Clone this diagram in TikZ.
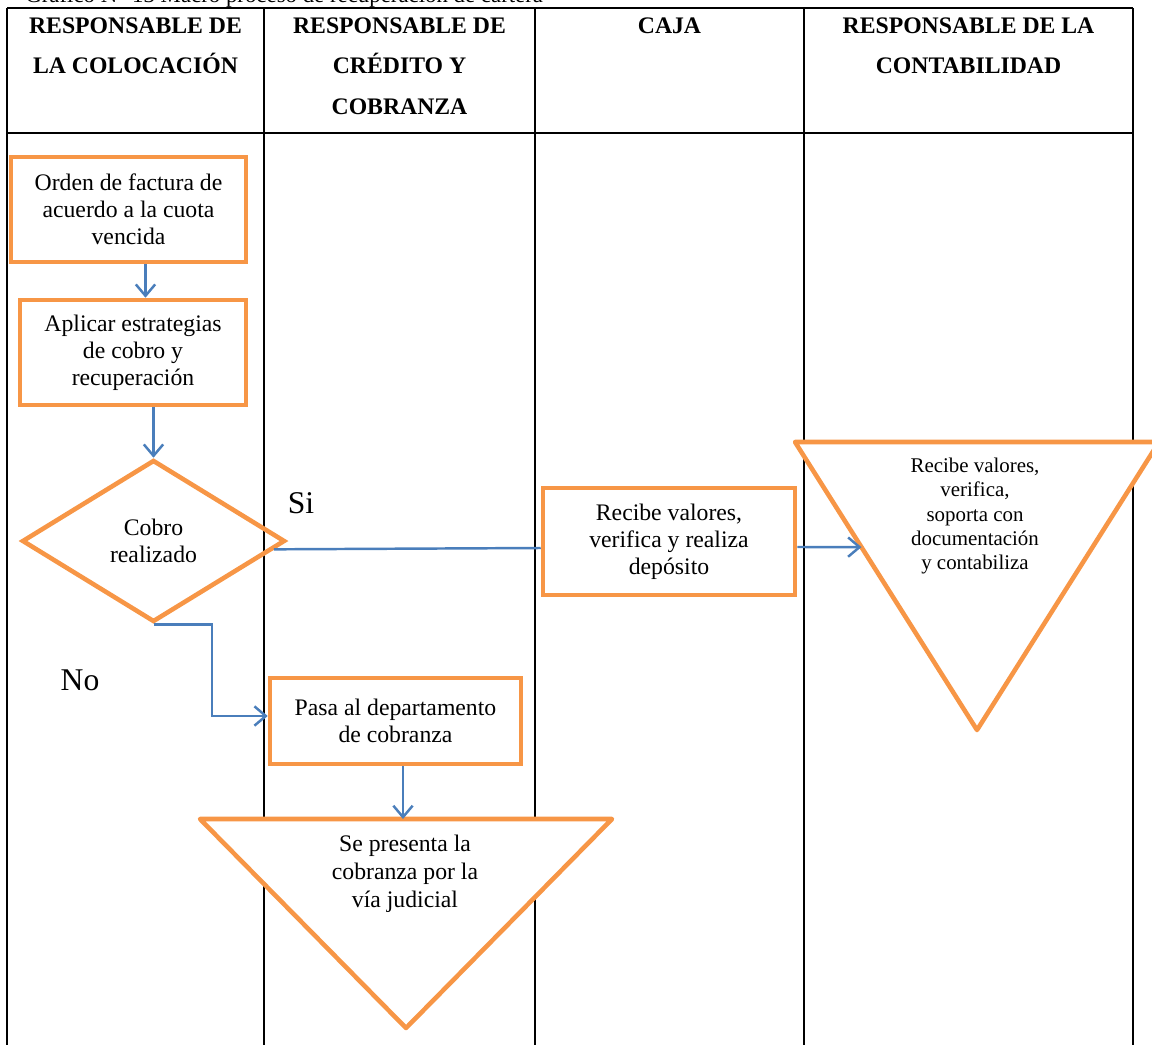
\documentclass[tikz,border=0pt]{standalone}
\usepackage{fontspec}
\setmainfont{Liberation Serif}
\usetikzlibrary{shapes.geometric,arrows.meta,positioning,calc}

\definecolor{boxorange}{HTML}{F79646}
\definecolor{flowblue}{HTML}{4A7EBB}

\begin{document}
\begin{tikzpicture}[x=0.02cm,y=-0.02cm,
    lane/.style={line width=1.1pt},
    stepbox/.style={draw=boxorange,line width=2.6pt,fill=white,rectangle,align=center,inner sep=2pt,font=\fontsize{13.5}{15.4}\selectfont},
    decision/.style={draw=boxorange,line width=2.6pt,diamond,aspect=1.62,minimum width=5.26cm,minimum height=3.24cm,inner sep=0pt,align=center,font=\fontsize{13.5}{15.4}\selectfont},
    endtri/.style={draw=boxorange,line width=2.6pt,fill=white,line join=round},
    tritext/.style={align=center,inner sep=0pt},
    flow/.style={draw=flowblue,line width=1.4pt,-{Straight Barb[length=6.5pt,width=11pt]}},
    head/.style={font=\bfseries\fontsize{13.5}{23.3}\selectfont,align=center,inner sep=0pt,anchor=north},
    answer/.style={font=\fontsize{18}{20}\selectfont}]

    \path[use as bounding box,clip] (0,0) rectangle (1152,1044);

    % Title (cut at the top edge)
    \node[anchor=base west,inner sep=0pt,font=\fontsize{13}{15}\selectfont] (title) at (25,3) {Gráfico N° 13 Macro proceso de recuperación de cartera};

    % Lanes
    \draw[lane] (7,8) -- (1133,8);
    \draw[lane] (7,133) -- (1133,133);
    \foreach \x in {7,264,535,804,1133}
        \draw[lane] (\x,8) -- (\x,1050);

    % Header
    \foreach \x/\txt/\nm in {135.5/{RESPONSABLE DE\\LA COLOCACIÓN}/hcol, 399.5/{RESPONSABLE DE\\CRÉDITO Y\\COBRANZA}/hcred, 669.5/{CAJA}/hcaja, 968.5/{RESPONSABLE DE LA\\CONTABILIDAD}/hcont}
        \node[head] (\nm) at (\x,17) {\txt};

    % Colocacion
    \node[stepbox,minimum width=4.7cm,minimum height=2.1cm] (orden) at (128.5,209.5) {Orden de factura de\\acuerdo a la cuota\\vencida};
    \node[stepbox,minimum width=4.52cm,minimum height=2.1cm] (aplicar) at (133,352.5) {Aplicar estrategias\\de cobro y\\recuperación};
    \node[decision] (cobro) at (153.5,541) {Cobro\\realizado};
    \draw[flow] ([xshift=0.34cm]orden.south) -- ([xshift=0.34cm]orden.south |- aplicar.north);
    \draw[flow] (aplicar.south -| cobro.north) -- (cobro.north);

    % Si
    \node[answer] (sitxt) at (301,503) {Si};
    \node[stepbox,minimum width=5.04cm,minimum height=2.14cm] (caja) at (669,541.5) {Recibe valores,\\verifica y realiza\\depósito};
    \coordinate (siout) at ($(cobro.east)!0.1!(cobro.south)$);
    \draw[flowblue,line width=1.4pt] (siout) -- ([yshift=-0.13cm]caja.west);

    % Contabilidad
    \coordinate (ctl) at (795,442);
    \coordinate (ctr) at (1159,442);
    \coordinate (ctb) at (977,730);
    \coordinate (ctin) at ($(ctl)!0.365!(ctb)$);
    \draw[endtri] (ctl) -- (ctr) -- (ctb) -- cycle;
    \node[tritext,font=\fontsize{11.9}{13.9}\selectfont] (conttxt) at (975,516) {Recibe valores,\\verifica,\\soporta con\\documentación\\y contabiliza};
    \draw[flow] ([yshift=-0.11cm]caja.east) -- (ctin);

    % No
    \node[answer] (notxt) at (80,680) {No};
    \node[stepbox,minimum width=5.02cm,minimum height=1.72cm] (pasa) at (395.5,721) {Pasa al departamento\\de cobranza};
    \draw[flow] (cobro.south) -- ++(58.5,0) |- ([yshift=0.1cm]pasa.west);

    % Judicial
    \coordinate (jtl) at (200,819);
    \coordinate (jtr) at (612,819);
    \coordinate (jtb) at (406,1028);
    \coordinate (jtin) at (403,819);
    \draw[endtri] (jtl) -- (jtr) -- (jtb) -- cycle;
    \node[tritext,font=\fontsize{13.5}{15.9}\selectfont] (judtxt) at (405,874) {Se presenta la\\cobranza por la\\vía judicial};
    \draw[flow] (pasa.south -| jtin) -- (jtin);
\end{tikzpicture}
\end{document}
